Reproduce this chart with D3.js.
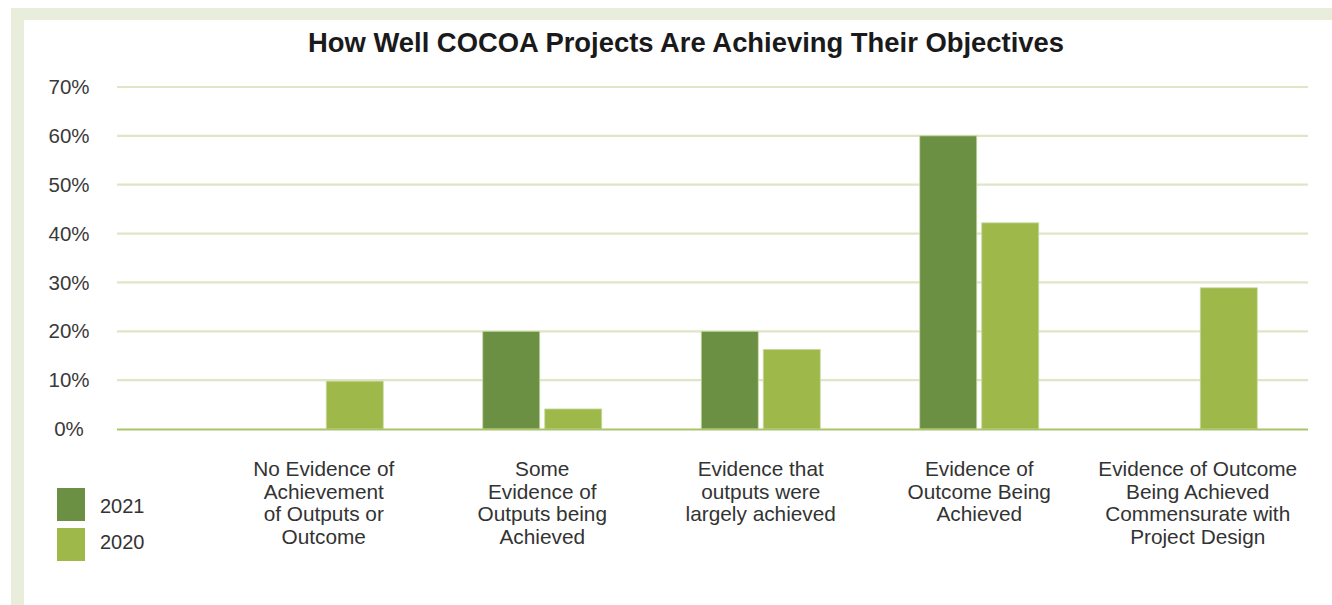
<!DOCTYPE html>
<html><head><meta charset="utf-8">
<script src="https://cdn.jsdelivr.net/npm/d3@7"></script>
<style>html,body{margin:0;padding:0;background:#fff;}svg{display:block;}</style>
</head><body>
<svg id="c" width="1332" height="605"></svg>
<script>
const categories = [
  ["No Evidence of","Achievement","of Outputs or","Outcome"],
  ["Some","Evidence of","Outputs being","Achieved"],
  ["Evidence that","outputs were","largely achieved"],
  ["Evidence of","Outcome Being","Achieved"],
  ["Evidence of Outcome","Being Achieved","Commensurate with","Project Design"]
];
const seriesNames = ["2021","2020"];
const values2021 = [0, 20, 20, 60, 0];
const values2020 = [9.8, 4.1, 16.3, 42.2, 28.9];
const yTicks = [0,10,20,30,40,50,60,70];
const colors = ["#6b8f43","#9fb84a"];
const title = "How Well COCOA Projects Are Achieving Their Objectives";

const svg = d3.select("#c");
const font = "'Liberation Sans', Arial, Helvetica, sans-serif";

// frame bands
svg.append("rect").attr("x",11).attr("y",8).attr("width",1321).attr("height",12).attr("fill","#e9eedc");
svg.append("rect").attr("x",11).attr("y",8).attr("width",13).attr("height",597).attr("fill","#e9eedc");

const y = d3.scaleLinear().domain([0,70]).range([429,87]);
const x0 = d3.scaleBand().domain(d3.range(categories.length)).range([214.5,1307]);
const half = x0.bandwidth()/2;
const x1 = d3.scaleBand().domain(seriesNames).range([half-59.5, half+59.5]).paddingInner(5/62);

// grid
const gridX1 = 117, gridX2 = 1308;
svg.append("g").selectAll("line").data(yTicks.filter(t=>t>0)).join("line")
  .attr("x1",gridX1).attr("x2",gridX2).attr("y1",d=>y(d)).attr("y2",d=>y(d))
  .attr("stroke","#dfe6c8").attr("stroke-width",2.2);

// y labels
svg.append("g").selectAll("text").data(yTicks).join("text")
  .attr("x",69).attr("y",d=>y(d)).attr("dy","0.35em").attr("text-anchor","middle")
  .attr("font-family",font).attr("font-size",20.5).attr("fill","#3a3a3a")
  .text(d=>d+"%");

// bars
const data = categories.map((c,i)=>({i, vals:[values2021[i], values2020[i]]}));
const g = svg.append("g");
data.forEach(d=>{
  seriesNames.forEach((s,k)=>{
    const v = d.vals[k];
    if (v<=0) return;
    g.append("rect")
      .attr("x", x0(d.i)+x1(s)).attr("y", y(v))
      .attr("width", x1.bandwidth()).attr("height", y(0)-y(v))
      .attr("fill", colors[k]).attr("stroke","#c9d9a4").attr("stroke-width",0.8);
  });
});

// baseline
svg.append("line").attr("x1",gridX1).attr("x2",gridX2).attr("y1",y(0)+0.5).attr("y2",y(0)+0.5)
  .attr("stroke","#a9c46c").attr("stroke-width",2.2);

// category labels
categories.forEach((lines,i)=>{
  const t = svg.append("text").attr("text-anchor","middle")
    .attr("font-family",font).attr("font-size",20.8).attr("fill","#333");
  lines.forEach((ln,j)=>{
    t.append("tspan").attr("x", x0(i)+half).attr("y", 476 + j*22.7).text(ln);
  });
});

// title
svg.append("text").attr("x",686).attr("y",52).attr("text-anchor","middle")
  .attr("font-family",font).attr("font-weight","bold").attr("font-size",27.4).attr("fill","#1a1a1a")
  .text(title);

// legend
const leg = svg.append("g");
seriesNames.forEach((s,k)=>{
  leg.append("rect").attr("x",57).attr("y",488+k*40).attr("width",28).attr("height",33).attr("fill",colors[k]);
  leg.append("text").attr("x",100).attr("y",506+k*36).attr("dy","0.35em")
    .attr("font-family",font).attr("font-size",20).attr("fill","#333").text(s);
});
</script>
</body></html>
